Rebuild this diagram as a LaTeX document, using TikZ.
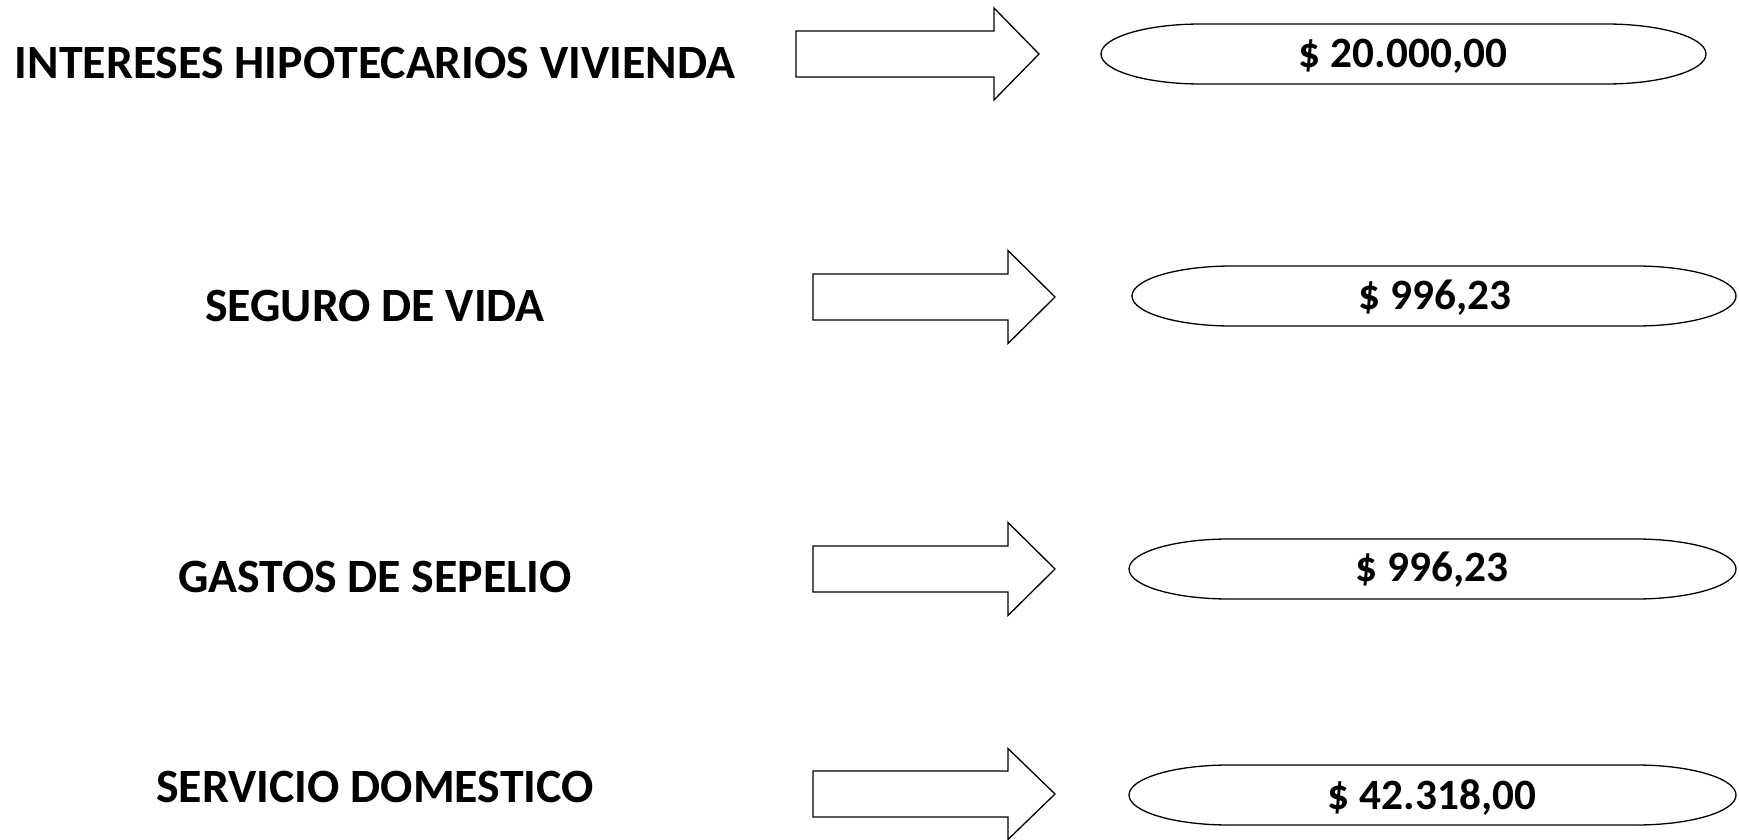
\documentclass[tikz,border=0pt]{standalone}
\usepackage{fontspec}
\setmainfont{Carlito}
\begin{document}
\begin{tikzpicture}[x=1pt,y=-1pt,
  lbl/.style={font=\fontsize{47.8}{54}\selectfont\bfseries, inner sep=0pt},
  val/.style={font=\fontsize{43.3}{48}\selectfont\bfseries, inner sep=0pt},
  shp/.style={draw=black, line width=1.3pt, fill=white}]
\useasboundingbox (0,0) rectangle (1739,840);
% capsule: left, right, cy
\newcommand\mycapsule[3]{%
  \draw[shp] ({#1+100},{#3-30}) -- ({#2-100},{#3-30})
    arc[start angle=-90,end angle=90,x radius=100,y radius=30]
    -- ({#1+100},{#3+30})
    arc[start angle=90,end angle=270,x radius=100,y radius=30] -- cycle;}
% block arrow: shaft left, head base, tip, cy, shaft half, head half
\newcommand\myarrow[6]{%
  \draw[shp, line join=miter] (#1,{#4-#5}) -- (#2,{#4-#5}) -- (#2,{#4-#6}) -- (#3,#4)
    -- (#2,{#4+#6}) -- (#2,{#4+#5}) -- (#1,{#4+#5}) -- cycle;}
% row 1
\node[lbl] (l1) at (375,63) {INTERESES HIPOTECARIOS VIVIENDA};
\myarrow{796}{994}{1039}{54}{23}{46}
\mycapsule{1101}{1706}{54}
\node[val] (v1) at (1403,56) {\$ 20.000,00};
% row 2
\node[lbl] (l2) at (375,306) {SEGURO DE VIDA};
\myarrow{813}{1008}{1055}{297}{23}{46.5}
\mycapsule{1132}{1736}{296}
\node[val] (v2) at (1435,298) {\$ 996,23};
% row 3
\node[lbl] (l3) at (375,577) {GASTOS DE SEPELIO};
\myarrow{813}{1008}{1055}{569}{23}{46.5}
\mycapsule{1129}{1736}{569}
\node[val] (v3) at (1432,570) {\$ 996,23};
% row 4
\node[lbl] (l4) at (375,787) {SERVICIO DOMESTICO};
\myarrow{813}{1008}{1055}{794}{23}{45.5}
\mycapsule{1129}{1736}{795}
\node[val] (v4) at (1432,797) {\$ 42.318,00};
\end{tikzpicture}
\end{document}
